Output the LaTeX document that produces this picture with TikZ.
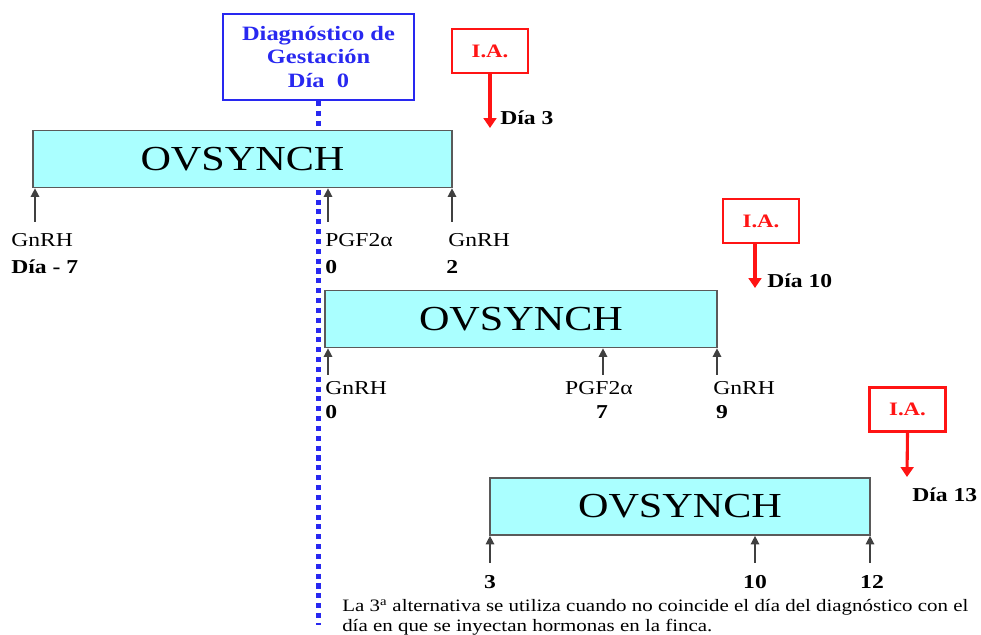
\documentclass[tikz,border=0pt]{standalone}
\usepackage{fontspec}
\setmainfont[FakeStretch=1.2]{Liberation Serif}
\usepackage{tikz}
\usetikzlibrary{arrows.meta,positioning}

\definecolor{ovcyan}{RGB}{170,255,255}
\definecolor{ovedge}{RGB}{90,90,90}
\definecolor{iared}{RGB}{255,20,20}
\definecolor{diagblue}{RGB}{40,40,240}

\tikzset{
  ovbox/.style={draw=ovedge,line width=1.2pt,fill=ovcyan,inner sep=0pt,
    minimum height=1.425cm,font=\fontsize{25}{30}\selectfont},
  iabox/.style={draw=iared,line width=1.8pt,fill=white,text=iared,inner sep=0pt,
    minimum width=1.9cm,minimum height=1.1cm,font=\bfseries\fontsize{13.5}{16}\selectfont},
  iaarrow/.style={iared,line width=2.2pt,-{Triangle[width=9pt,length=7pt]}},
  tick/.style={black!75,line width=1pt,-{Triangle[width=6pt,length=6pt]}},
  lbl/.style={inner sep=0pt,font=\fontsize{14}{16}\selectfont},
  daylbl/.style={inner sep=0pt,font=\bfseries\fontsize{14}{16}\selectfont},
}

\begin{document}
\begin{tikzpicture}[x=0.025cm,y=-0.025cm]
  \useasboundingbox (0,0) rectangle (981,635);
  % pregnancy check, day 0
  \node[draw=diagblue,line width=1.6pt,minimum width=4.775cm,minimum height=2.15cm,
    align=center,text=diagblue,font=\bfseries\fontsize{14.5}{17}\selectfont] (diag) at (318.5,57)
    {Diagnóstico de\\Gestación\\Día\ \ 0};
  \coordinate (dotend) at (318.5,625);
  \draw[diagblue,line width=3.6pt,dash pattern=on 3.6pt off 3.4pt] (diag.south) -- (dotend);
  % first ovsynch
  \node[ovbox,minimum width=10.475cm] (ov1) at (242.5,159) {OVSYNCH};
  \coordinate (t1a) at (35,222);
  \coordinate (t1b) at (328,222);
  \coordinate (t1c) at (452,222);
  \foreach \t in {t1a,t1b,t1c} \draw[tick] (\t) -- (\t |- ov1.south);
  \node[lbl,anchor=west] (g1a) at (11,240) {GnRH};
  \node[daylbl,anchor=west] (d1a) at (11,267) {Día - 7};
  \node[lbl,anchor=west] (g1b) at (325,240) {PGF2α};
  \node[daylbl,anchor=west] (d1b) at (325,267) {0};
  \node[lbl,anchor=west] (g1c) at (448,240) {GnRH};
  \node[daylbl,anchor=west] (d1c) at (446,267) {2};
  \node[iabox] (ia1) at (490,51) {I.A.};
  \coordinate (ia1tip) at (490,128);
  \draw[iaarrow] (ia1.south) -- (ia1tip);
  \node[daylbl,anchor=west] (dia3) at (500,118) {Día 3};
  % second ovsynch
  \node[ovbox,minimum width=9.8cm] (ov2) at (521,319) {OVSYNCH};
  \coordinate (t2a) at (328,375);
  \coordinate (t2b) at (603,375);
  \coordinate (t2c) at (717,375);
  \foreach \t in {t2a,t2b,t2c} \draw[tick] (\t) -- (\t |- ov2.south);
  \node[lbl,anchor=west] (g2a) at (325,388) {GnRH};
  \node[daylbl,anchor=west] (d2a) at (325,412) {0};
  \node[lbl] (g2b) at (599,388) {PGF2α};
  \node[daylbl] (d2b) at (602,412) {7};
  \node[lbl,anchor=west] (g2c) at (713,388) {GnRH};
  \node[daylbl] (d2c) at (722,412) {9};
  \node[iabox] (ia2) at (761,221) {I.A.};
  \coordinate (ia2tip) at (755,288);
  \draw[iaarrow] (ia2.south -| ia2tip) -- (ia2tip);
  \node[daylbl,anchor=west] (dia10) at (767,281) {Día 10};
  % third ovsynch
  \node[ovbox,minimum width=9.5cm] (ov3) at (680,506.5) {OVSYNCH};
  \coordinate (t3a) at (490,563);
  \coordinate (t3b) at (755,563);
  \coordinate (t3c) at (870,563);
  \foreach \t in {t3a,t3b,t3c} \draw[tick] (\t) -- (\t |- ov3.south);
  \node[daylbl] (d3a) at (490,582) {3};
  \node[daylbl] (d3b) at (755,582) {10};
  \node[daylbl] (d3c) at (872,582) {12};
  \node[iabox] (ia3) at (907.5,409.5) {I.A.};
  \coordinate (ia3tip) at (907,477);
  \draw[iaarrow] (ia3.south) -- (ia3tip);
  \node[daylbl,anchor=west] (dia13) at (912,495) {Día 13};
  % note
  \node[anchor=north west,inner sep=0pt,align=left,font=\fontsize{12.4}{14}\selectfont] (note) at (342,599)
    {La 3\textsuperscript{a} alternativa se utiliza cuando no coincide el día del diagnóstico con el\\
     día en que se inyectan hormonas en la finca.};
\end{tikzpicture}
\end{document}
